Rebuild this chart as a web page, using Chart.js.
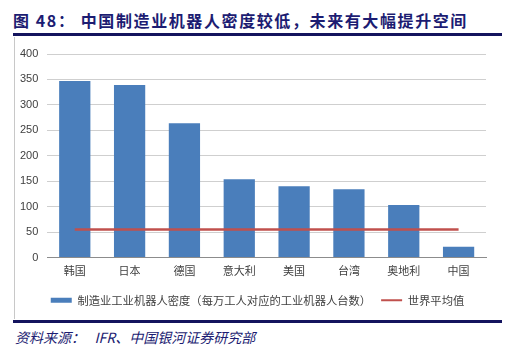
<!DOCTYPE html>
<html><head><meta charset="utf-8">
<script src="https://cdn.jsdelivr.net/npm/chart.js@4"></script>
<style>
html,body{margin:0;padding:0;background:#fff;width:512px;height:362px;overflow:hidden;}
#wrap{position:relative;width:512px;height:362px;}
#c{position:absolute;left:0;top:0;}
.title{position:absolute;left:13px;top:8px;font:bold 16px "Noto Sans CJK SC";color:#1c1c72;letter-spacing:1.6px;white-space:nowrap;}
.hl{position:absolute;left:13px;width:489px;background:#14145e;}
.vl{position:absolute;left:14px;top:37px;width:1px;height:282px;background:#c8c8c8;}
.src{position:absolute;left:15px;top:327px;font:italic 14px "Noto Sans CJK SC";color:#1c1c72;white-space:nowrap;}
</style></head>
<body><div id="wrap">
<div class="title">图 48：&nbsp;中国制造业机器人密度较低，未来有大幅提升空间</div>
<div class="hl" style="top:33px;height:3px"></div>
<div class="vl"></div>
<div class="hl" style="top:320px;height:3px"></div>
<div class="src">资料来源：&nbsp;&nbsp;&nbsp;IFR、中国银河证券研究部</div>
<canvas id="c" width="512" height="362"></canvas>
</div>
<script>
const categories = ["韩国","日本","德国","意大利","美国","台湾","奥地利","中国"];
const densityValues = [347, 339, 264, 154, 140, 134, 103, 21];
const worldAverage = [55, 55, 55, 55, 55, 55, 55, 55];
const yTicks = [0, 50, 100, 150, 200, 250, 300, 350, 400];
const seriesNames = ["制造业工业机器人密度（每万工人对应的工业机器人台数）", "世界平均值"];

const legendShift = {
  id:'legendShift',
  afterLayout(chart){
    const lg = chart.legend;
    if (lg) { lg.left += 9; lg.right += 9; }
  }
};

new Chart(document.getElementById('c'), {
  data: {
    labels: categories,
    datasets: [
      {type:'line', label: seriesNames[1], data: worldAverage, borderColor:'#C0504D', backgroundColor:'#C0504D', borderWidth:2.5, pointRadius:0, order:0},
      {type:'bar', label: seriesNames[0], data: densityValues, backgroundColor:'#4A7EBB', borderWidth:0, barPercentage:0.57, categoryPercentage:1, order:1}
    ]
  },
  plugins:[legendShift],
  options: {
    responsive:false, animation:false,
    layout:{padding:{left:11, right:26, top:54, bottom:46}},
    plugins:{
      tooltip:{enabled:false},
      legend:{
        position:'bottom',
        labels:{
          font:{family:'"Noto Sans CJK SC"', size:11.3},
          color:'#404040',
          usePointStyle:true,
          pointStyleWidth:21,
          boxHeight:5,
          padding:10,
          generateLabels(chart){
            const ds = chart.data.datasets;
            return [1,0].map(i=>({
              text: ds[i].label,
              fillStyle: ds[i].backgroundColor,
              strokeStyle: i===0 ? '#C0504D' : '#4A7EBB',
              lineWidth: i===0 ? 2 : 0,
              pointStyle: i===0 ? 'line' : 'rect',
              datasetIndex:i, hidden:false, fontColor:'#404040'
            }));
          }
        }
      }
    },
    scales:{
      x:{
        grid:{display:false, drawTicks:false},
        border:{display:true, color:'#8c8c8c', width:1},
        ticks:{font:{family:'"Noto Sans CJK SC"', size:11}, color:'#404040', padding:7}
      },
      y:{
        min:0, max:400,
        afterBuildTicks(axis){ axis.ticks = yTicks.map(v=>({value:v})); },
        grid:{color:'#cfcfcf', lineWidth:1, drawTicks:false},
        border:{display:false},
        ticks:{font:{family:'"Liberation Sans"', size:11}, color:'#404040', padding:9}
      }
    }
  }
});
</script>
</body></html>
